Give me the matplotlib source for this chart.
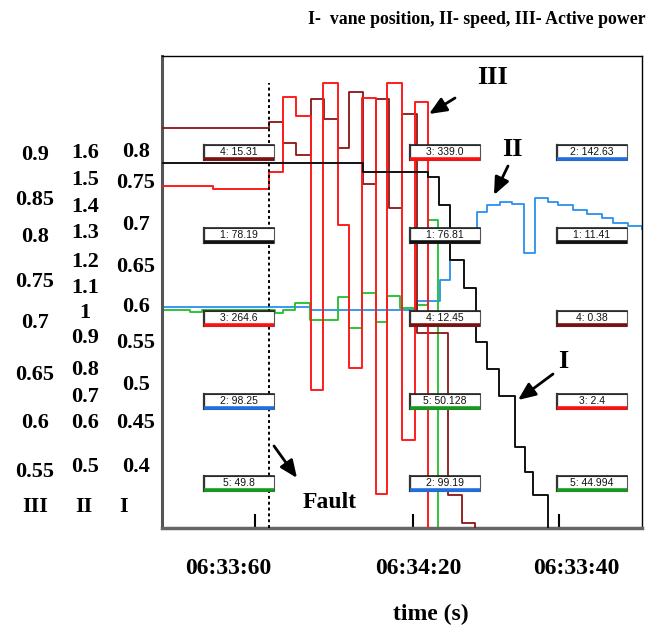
"""
Vane position, speed and active power traces around a fault,
redrawn from a recorder screen capture.
"""

import matplotlib.pyplot as plt
from matplotlib.patches import Rectangle

W, H = 652, 631

# step traces: change times and levels (recorder screen units)
t_vane = [0, 201, 266, 277, 288, 302, 314, 325, 337, 353, 363, 371, 386]
vane = [365, 356, 351, 323, 268, 240, 186, 159, 132, 81, 56, 33, 0]

t_speed = [0, 148, 255, 278, 288, 315, 325, 338, 350, 362, 373, 386, 396,
           411, 425, 440, 451, 466, 480]
speed = [221, 218, 227, 248, 293, 316, 323, 326, 324, 275, 330, 326, 323,
         318, 314, 310, 305, 302, 299]

t_power = [0, 51, 107, 121, 134, 149, 161, 176, 187, 200, 214, 225, 240, 253, 266]
power = [342, 339, 356, 431, 412, 138, 445, 303, 160, 430, 34, 445, 88, 426, 0]

t_ch4 = [0, 107, 121, 134, 149, 162, 176, 187, 201, 214, 227, 240, 255, 286, 300, 313]
ch4 = [400, 406, 385, 373, 429, 409, 380, 436, 344, 429, 320, 414, 195, 33, 5, 0]

t_ch5 = [0, 28, 40, 113, 121, 133, 148, 176, 187, 200, 214, 225, 238, 254, 266, 276]
ch5 = [218, 216, 218, 215, 218, 225, 208, 231, 200, 235, 206, 232, 220, 223, 308, 0]

fault_time = 107
grid_times = [93, 251, 397]

# cursor read-outs, one column per cursor
readouts = [
    ["4: 15.31", "1: 78.19", "3: 264.6", "2: 98.25", "5: 49.8"],
    ["3: 339.0", "1: 76.81", "4: 12.45", "5: 50.128", "2: 99.19"],
    ["2: 142.63", "1: 11.41", "4: 0.38", "3: 2.4", "5: 44.994"],
]

scale_III = ["0.9", "0.85", "0.8", "0.75", "0.7", "0.65", "0.6", "0.55"]
scale_II = ["1.6", "1.5", "1.4", "1.3", "1.2", "1.1", "1", "0.9", "0.8",
            "0.7", "0.6", "0.5"]
scale_I = ["0.8", "0.75", "0.7", "0.65", "0.6", "0.55", "0.5", "0.45", "0.4"]
time_labels = ["06:33:60", "06:34:20", "06:33:40"]

col = {"1": "#111111", "2": "#2a8ff0", "3": "#ff1c1c", "4": "#8b1515", "5": "#1fbf2a"}
bar_col = {"1": "#111111", "2": "#1f6fe0", "3": "#ff1010", "4": "#7a1010", "5": "#169a1e"}

serif = dict(family="Liberation Serif", weight="bold", color="black")


def fx(px):
    return px / W


def fy(py):
    return 1 - py / H


fig = plt.figure(figsize=(W / 100, H / 100), dpi=100)
ax = fig.add_axes([fx(162), fy(528), 480 / W, 472 / H])
ax.set_xlim(0, 480)
ax.set_ylim(0, 472)

ax.step(t_speed, speed, where="post", color=col["2"], lw=1.3, zorder=2)
ax.step(t_ch5, ch5, where="post", color=col["5"], lw=1.3, zorder=2)
ax.step(t_ch4, ch4, where="post", color=col["4"], lw=1.3, zorder=3)
ax.step(t_power, power, where="post", color=col["3"], lw=1.4, zorder=3)
ax.step(t_vane, vane, where="post", color=col["1"], lw=1.4, zorder=4)

ax.plot([fault_time, fault_time], [0, 445], color="black", lw=1.4,
        ls=(0, (1.5, 1.5)), zorder=5)

# read-out boxes
box_x = [42, 248, 395]
box_y = [368, 285, 202, 119, 37]
for x0, column in zip(box_x, readouts):
    for y0, txt in zip(box_y, column):
        ch = txt[0]
        ax.add_patch(Rectangle((x0, y0), 70, 15, facecolor="white",
                               edgecolor="#555555", lw=0.8, zorder=6))
        ax.plot([x0, x0 + 70], [y0 + 15, y0 + 15], color="#222222", lw=1.2, zorder=7)
        ax.plot([x0, x0], [y0, y0 + 15], color="#333333", lw=1.6, zorder=7)
        ax.plot([x0, x0 + 70], [y0 + 1, y0 + 1], color=bar_col[ch], lw=2.6,
                zorder=7, solid_capstyle="butt")
        ax.text(x0 + 35, y0 + 8, txt, ha="center", va="center",
                fontsize=7.5, family="Liberation Sans", color="#111111", zorder=8)

# frame and ticks
ax.set_xticks(grid_times)
ax.set_xticklabels([])
ax.set_yticks([])
ax.tick_params(axis="x", direction="in", length=10, width=1.5, color="black")
for side in ["top", "right"]:
    ax.spines[side].set_linewidth(1.0)
    ax.spines[side].set_color("black")
ax.spines["left"].set_linewidth(2.2)
ax.spines["left"].set_color("#555555")
ax.spines["bottom"].set_linewidth(2.5)
ax.spines["bottom"].set_color("#666666")

# trace markers
arrow = dict(arrowstyle="-|>,head_length=0.7,head_width=0.3", color="black",
             lw=2.0, mutation_scale=15, shrinkA=0, shrinkB=0)
ax.annotate("", xy=(267, 414), xytext=(293, 430), arrowprops=arrow)
ax.annotate("", xy=(332, 333), xytext=(346, 362), arrowprops=arrow)
ax.annotate("", xy=(356, 128), xytext=(391, 154), arrowprops=arrow)
ax.annotate("", xy=(135, 50), xytext=(112, 82), arrowprops=arrow)
ax.text(331, 451, "III", ha="center", va="center", fontsize=19, **serif)
ax.text(350, 378, "II", ha="center", va="center", fontsize=19, **serif)
ax.text(401, 166, "I", ha="center", va="center", fontsize=19, **serif)
ax.text(168, 26, "Fault", ha="center", va="center", fontsize=17, clip_on=False, **serif)

fig.text(fx(477), fy(20), "I-  vane position, II- speed, III- Active power",
         ha="center", va="center", fontsize=12.8, **serif)

# hand-written scales on the left
pos_III = [155, 200, 237, 282, 323, 375, 423, 472]
pos_II = [153, 180, 207, 233, 262, 288, 313, 338, 370, 397, 423, 467]
pos_I = [152, 183, 225, 267, 307, 343, 385, 423, 467]
for xc, labels, ys in [(35, scale_III, pos_III), (85, scale_II, pos_II),
                       (136, scale_I, pos_I)]:
    for lab, yc in zip(labels, ys):
        fig.text(fx(xc), fy(yc), lab, ha="center", va="center", fontsize=16, **serif)
for xc, name in [(35, "III"), (84, "II"), (124, "I")]:
    fig.text(fx(xc), fy(507), name, ha="center", va="center", fontsize=16, **serif)

for xc, lab in zip([228, 418, 576], time_labels):
    fig.text(fx(xc), fy(568), lab, ha="center", va="center", fontsize=17, **serif)
fig.text(fx(431), fy(614), "time (s)", ha="center", va="center", fontsize=17, **serif)

fig.savefig("out.png", dpi=100)
